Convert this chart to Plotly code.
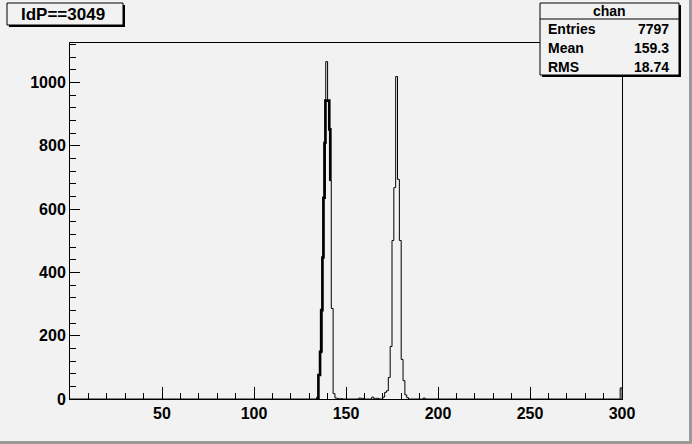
import numpy as np
import plotly.graph_objects as go

# ---------------- data ----------------
# histogram "chan": 300 bins of width 1 on [0, 300]; only non-empty bins listed
bin_low = [134, 135, 136, 137, 138, 139, 140, 141, 142, 143, 144, 145, 147,
           157, 158, 159, 164, 165, 166, 167,
           170, 171, 172, 173, 174, 175, 176, 177, 178, 179, 180, 181, 182, 183,
           192, 299]
counts = [5, 76, 149, 447, 810, 1066, 943, 690, 286, 17, 3, 2, 1,
          3, 2, 2, 6, 2, 2, 2,
          6, 21, 26, 68, 166, 501, 668, 1019, 694, 501, 125, 58, 13, 4,
          3, 35]

# finer-grained overlay drawn thick on the first peak
fine_edges = [135.0, 135.9, 136.5, 137.2, 137.7, 138.4, 138.8, 140.9, 141.5]
fine_counts = [76, 149, 281, 447, 636, 810, 943, 852]
fine_end = 690

x_ticks = [50, 100, 150, 200, 250, 300]
y_ticks = [0, 200, 400, 600, 800, 1000]

title_text = "IdP==3049"
stats_name = "chan"
stats_labels = ["Entries", "Mean", "RMS"]
stats_values = ["7797", "159.3", "18.74"]

# ---------------- layout geometry (pixels) ----------------
W, H = 692, 444
L, R, T, B = 70, 622, 43, 399
BG = "#f2f2f2"
FONT = "Liberation Sans, Arial, Helvetica, sans-serif"


def px(x):
    return (x - L) / (R - L)


def py(y):
    return (B - y) / (B - T)


nbins = 300
full = np.zeros(nbins)
full[np.array(bin_low)] = counts
edges = np.arange(nbins + 1)

hx = [edges[0]] + list(edges)
hy = [0] + list(full) + [0]

fx = [fine_edges[0]] + list(fine_edges)
fy = [0] + list(fine_counts) + [fine_end]

fig = go.Figure()
fig.add_trace(go.Scatter(x=hx, y=hy, mode="lines", line=dict(shape="hv", color="black", width=1),
                         hoverinfo="skip", showlegend=False))
fig.add_trace(go.Scatter(x=fx, y=fy, mode="lines", line=dict(shape="hv", color="black", width=2.6),
                         hoverinfo="skip", showlegend=False))

tickfont = dict(family=FONT, size=16, color="black", weight="bold")

fig.update_layout(
    width=W, height=H,
    margin=dict(l=L, r=W - R, t=T, b=H - B, pad=0),
    paper_bgcolor=BG, plot_bgcolor=BG,
    showlegend=False,
    xaxis=dict(range=[0, 300], tickvals=x_ticks, ticks="inside", ticklen=12, tickwidth=1,
               tickcolor="black", showline=True, linecolor="black", linewidth=1, mirror=True,
               showgrid=False, zeroline=False, tickfont=tickfont,
               minor=dict(dtick=10, tick0=0, ticks="inside", ticklen=6, tickcolor="black", showgrid=False)),
    yaxis=dict(range=[0, 1125], tickvals=y_ticks, ticks="inside", ticklen=10, tickwidth=1,
               tickcolor="black", showline=True, linecolor="black", linewidth=1, mirror=True,
               showgrid=False, zeroline=False, tickfont=tickfont,
               minor=dict(dtick=40, tick0=0, ticks="inside", ticklen=6, tickcolor="black", showgrid=False)),
)

shapes = []


def box(x0, y0, x1, y1, shadow=2):
    shapes.append(dict(type="rect", xref="paper", yref="paper",
                       x0=px(x0 + shadow), x1=px(x1 + shadow), y0=py(y1 + shadow), y1=py(y0 + shadow),
                       fillcolor="black", line=dict(width=0), layer="above"))
    shapes.append(dict(type="rect", xref="paper", yref="paper",
                       x0=px(x0), x1=px(x1), y0=py(y1), y1=py(y0),
                       fillcolor=BG, line=dict(color="black", width=1), layer="above"))


box(7, 3, 123, 25)
box(540, 3, 679, 75)
shapes.append(dict(type="line", xref="paper", yref="paper", x0=px(540), x1=px(679),
                   y0=py(19), y1=py(19), line=dict(color="black", width=1), layer="above"))
shapes.append(dict(type="line", xref="paper", yref="paper", x0=px(0), x1=px(W),
                   y0=py(H - 1.5), y1=py(H - 1.5), line=dict(color="#9a9a9a", width=3)))
shapes.append(dict(type="line", xref="paper", yref="paper", x0=px(W - 1.5), x1=px(W - 1.5),
                   y0=py(0), y1=py(H), line=dict(color="#9a9a9a", width=3)))
fig.update_layout(shapes=shapes)

ann = []
ann.append(dict(text=title_text, xref="paper", yref="paper", x=px(63), y=py(14.5),
                xanchor="center", yanchor="middle", showarrow=False,
                font=dict(family=FONT, size=17, color="black", weight="bold")))
ann.append(dict(text=stats_name, xref="paper", yref="paper", x=px(609.5), y=py(11),
                xanchor="center", yanchor="middle", showarrow=False,
                font=dict(family=FONT, size=14, color="black", weight="bold")))
for i, (lab, val) in enumerate(zip(stats_labels, stats_values)):
    yy = 29.5 + i * 18.5
    ann.append(dict(text=lab, xref="paper", yref="paper", x=px(546), y=py(yy),
                    xanchor="left", yanchor="middle", showarrow=False,
                    font=dict(family=FONT, size=14, color="black", weight="bold")))
    ann.append(dict(text=val, xref="paper", yref="paper", x=px(671), y=py(yy),
                    xanchor="right", yanchor="middle", showarrow=False,
                    font=dict(family=FONT, size=14, color="black", weight="bold")))
fig.update_layout(annotations=ann)

fig.write_html("out.html", config={"displayModeBar": False},
               post_script="document.body.style.margin='0px';")
